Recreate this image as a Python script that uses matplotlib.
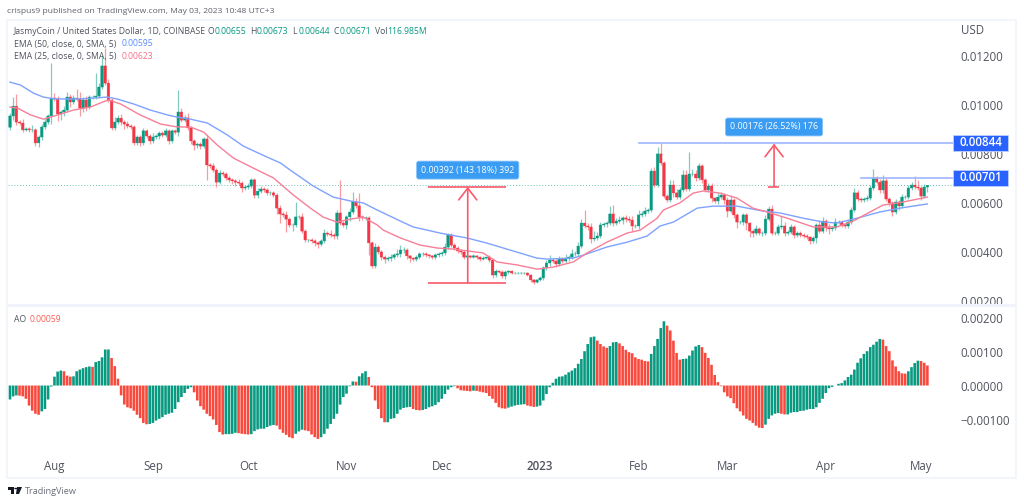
import numpy as np
import matplotlib
matplotlib.use("Agg")
import matplotlib.pyplot as plt
from matplotlib.patches import Rectangle, Polygon

plt.rcParams['font.family'] = ['Open Sans', 'DejaVu Sans']

# ---- data (prices and AO in units of 0.00001) ----
UNIT = 1e-5
first_open = 908
closes = [
954,994,929,925,897,901,897,897,844,868,
909,929,954,1027,1023,962,970,978,1031,1011,
1027,1023,986,1019,990,1031,1031,1035,1072,1158,
1088,1019,905,929,945,929,921,913,909,844,
868,844,893,872,852,868,872,884,876,893,
852,893,888,970,937,946,905,852,835,839,
831,860,754,750,733,684,721,717,701,693,
689,684,680,660,664,668,693,631,647,656,
652,640,640,631,578,554,550,533,509,509,
542,542,484,448,448,444,436,431,444,476,
472,468,464,558,517,509,542,562,603,587,
542,538,538,436,342,419,399,378,370,374,
378,387,391,407,407,383,374,370,378,391,
391,387,383,378,387,391,395,419,468,427,
415,403,399,378,383,378,383,378,370,374,
378,366,305,321,317,301,317,321,313,313,
313,313,313,305,285,276,285,293,334,354,
366,362,350,370,362,374,378,391,391,423,
517,505,501,452,456,464,509,513,517,554,
517,525,529,538,533,529,505,505,550,554,
566,570,729,672,799,762,627,611,672,640,
623,652,713,656,717,717,701,750,693,652,
668,619,607,623,631,611,566,611,550,521,
521,550,517,484,476,493,476,476,533,574,
476,476,501,505,476,480,501,468,476,468,
464,460,444,456,509,484,525,497,493,497,
521,521,509,505,521,570,640,615,611,615,
619,660,701,684,652,689,615,599,562,603,
587,623,623,660,672,664,660,627,664,671]
upper_wicks = [
12,37,50,8,16,8,8,20,8,8,
12,16,8,143,20,12,8,16,20,12,
12,36,30,12,16,8,8,94,16,45,
73,16,8,20,12,16,8,12,8,8,
8,8,12,8,8,16,8,8,8,12,
8,8,8,90,16,12,20,8,8,8,
8,8,16,8,12,8,12,8,8,8,
8,8,12,8,8,12,8,8,12,12,
8,8,8,8,8,12,8,16,8,8,
60,8,16,8,4,8,8,8,8,16,
8,16,8,12,135,8,8,16,40,16,
53,8,8,8,8,16,8,8,8,8,
12,8,20,20,12,8,4,4,8,8,
8,8,4,4,8,8,8,16,8,8,
8,8,8,8,4,4,8,4,4,8,
4,8,8,8,4,8,8,4,4,4,
4,4,4,4,4,4,4,8,8,12,
20,8,8,12,8,16,8,20,12,16,
16,53,12,16,30,16,12,8,8,32,
37,12,16,8,12,12,16,8,20,12,
16,8,12,16,30,45,8,8,20,20,
16,12,20,20,90,20,16,12,8,8,
12,12,4,16,12,8,12,20,8,8,
8,8,8,4,8,16,8,8,16,12,
16,8,12,40,16,8,12,8,8,8,
8,8,4,8,8,20,16,8,16,8,
16,8,8,8,8,12,20,12,8,8,
12,12,37,8,12,24,12,8,8,12,
8,12,8,12,12,36,28,8,12,2]
lower_wicks = [
12,16,12,8,8,4,8,8,12,16,
12,8,8,32,8,28,24,16,8,20,
8,8,32,16,16,8,8,8,8,8,
8,8,8,8,8,12,20,8,8,8,
8,12,8,8,12,8,8,12,8,8,
12,8,8,16,8,8,8,12,20,12,
12,8,60,8,8,20,8,8,8,8,
12,16,8,16,8,8,8,12,12,8,
8,8,8,8,24,37,8,53,8,24,
8,8,8,8,8,8,12,16,8,8,
8,8,12,12,8,8,16,16,8,8,
16,8,8,49,8,8,8,12,16,8,
12,8,8,12,12,12,16,8,8,8,
8,8,8,8,8,8,8,8,8,8,
8,8,8,8,4,4,4,8,8,4,
4,8,12,8,4,8,12,8,4,4,
4,4,4,4,8,8,4,4,8,8,
12,8,12,8,8,8,12,8,8,8,
8,8,12,16,8,8,8,8,12,8,
12,8,8,16,12,8,20,8,12,8,
8,8,8,8,8,8,8,8,8,16,
8,8,8,8,8,8,12,8,12,8,
8,16,8,12,8,16,24,8,12,24,
8,12,28,24,16,8,8,12,8,8,
8,8,8,8,12,8,8,12,8,8,
8,8,12,8,20,8,8,12,20,8,
8,8,8,8,8,8,8,8,8,8,
8,8,8,8,12,12,8,12,16,8,
16,8,8,8,8,8,8,16,8,20]

ema50_days = [0,3.3,7.4,10.5,13.7,18,23,27.5,30.7,33.8,38.9,44.2,49.6,52.7,56.8,62.2,68.5,73.5,81,85.2,88.3,95.5,101.8,107.2,111.3,115.7,123,127,135.5,144,150.3,158.5,166,169.2,177.4,180.6,188,194.4,200.7,204.8,209,216.5,221.5,229,237.2,242.6,249.8,256.2,260.5,266.9,274,280.4,289]
ema50_vals = [1092,1080,1047,1031,1024,1023,1024,1028,1031,1023,1003,978,958,949,941,925,876,831,786,762,733,668,623,607,599,570,525,501,476,456,435,403,374,370,374,386,419,439,464,505,521,578,586,586,566,558,537,521,517,537,562,578,595]
ema25_days = [0,2.4,6.5,10.5,15,20,25.3,28.5,31,34.8,41,47.4,52.7,56.8,61,65.3,70.4,76.7,83,89.3,94.6,98.7,103,107.2,111.3,115.7,117.6,123,129.2,134.6,139.6,149,153.5,159.8,166,171,177.4,181.8,188,194.4,198.5,203.9,205.8,211,215.2,218.4,223.7,229,234,238.5,244.8,253,260.5,265.6,270.9,275,281.4,289]
ema25_vals = [990,986,958,941,958,978,990,1007,1019,1003,958,921,909,909,888,835,782,741,701,631,578,541,521,533,541,509,488,456,427,415,411,395,358,346,329,337,358,395,439,476,488,537,570,599,639,648,639,619,578,562,537,501,501,525,562,590,603,623]

ao_vals = [
-41,-32,-29,-30,-32,-39,-59,-74,-83,-86,
-76,-69,-41,-3,26,41,44,42,29,26,
27,42,47,51,54,56,55,69,72,83,
106,106,81,57,20,-29,-56,-64,-67,-74,
-86,-96,-110,-114,-113,-110,-103,-98,-93,-86,
-83,-80,-69,-49,-34,-22,-10,-5,-20,-44,
-61,-71,-83,-90,-100,-116,-137,-144,-143,-143,
-142,-139,-140,-142,-143,-144,-143,-134,-129,-127,
-127,-122,-118,-116,-118,-129,-139,-145,-152,-155,
-142,-135,-130,-132,-134,-144,-152,-157,-152,-142,
-127,-113,-98,-83,-56,-34,-24,-2,12,11,
27,36,42,25,-5,-44,-69,-96,-108,-108,
-98,-96,-83,-71,-66,-64,-63,-69,-72,-73,
-72,-69,-64,-61,-57,-49,-39,-25,-12,-5,
-2,-8,-14,-15,-16,-17,-15,-16,-18,-20,
-22,-31,-39,-51,-64,-67,-68,-65,-62,-59,
-57,-56,-55,-59,-61,-63,-62,-59,-44,-25,
-5,8,20,26,27,32,39,44,51,64,
78,101,122,142,144,132,122,115,111,116,
127,128,124,116,105,98,95,83,78,76,
72,71,93,116,137,169,189,176,162,132,
96,76,78,79,88,103,115,119,113,96,
81,61,31,10,-2,-20,-32,-37,-52,-67,
-76,-88,-98,-103,-110,-118,-124,-125,-115,-98,
-88,-83,-81,-83,-85,-85,-80,-78,-78,-75,
-74,-71,-69,-69,-64,-51,-39,-22,-8,-4,
0,5,7,15,25,32,47,67,80,93,
101,113,120,129,137,135,116,101,74,56,
42,36,35,42,54,66,73,72,67,59]

month_days = [14,45,75,106,136,167,198,226,257,287]
month_labels = ['Aug','Sep','Oct','Nov','Dec','2023','Feb','Mar','Apr','May']
price_ticks = [0.002,0.004,0.006,0.008,0.010,0.012]
ao_ticks = [-0.001,0,0.001,0.002]
last_close = 0.00671
level_high, level_mid = 0.00844, 0.00701
m1_span, m1_x, m1_lo, m1_hi = (131.8,156.2), 144.2, 0.00272, 0.00665
m2_span, m2_x, m2_lo, m2_hi = (238.8,242.3), 240.7, 0.00665, 0.00841
level_high_start, level_mid_start = 198.2, 268

GREEN, RED = '#089981', '#F23645'
AO_RED = '#F9493D'
BLUE_TXT, PINK = '#5B8CFF', '#F7708A'
GREY = '#50535E'

W, H = 1024, 503
fig = plt.figure(figsize=(W/100, H/100), dpi=100, facecolor='white')
def axrect(x0, y0, x1, y1):
    return [x0/W, 1-y1/H, (x1-x0)/W, (y1-y0)/H]

ax = fig.add_axes(axrect(7.5, 20, 955, 303))
ao = fig.add_axes(axrect(7.5, 307, 955, 477), sharex=ax)

# ---- frame ----
frame = '#F0F3FA'
fig.add_artist(Rectangle((7/W, 1-477.5/H), 1008.5/W, 458/H, transform=fig.transFigure,
                         fill=False, ec=frame, lw=1.2))
fig.add_artist(Rectangle((7/W, 1-306.5/H), 1008.5/W, 3/H, transform=fig.transFigure,
                         fc=frame, ec='none'))

# ---- candles ----
c = np.array(closes, float)
o = np.r_[first_open, c[:-1]]
hi = np.maximum(o, c) + np.array(upper_wicks)
lo = np.minimum(o, c) - np.array(lower_wicks)
days = np.arange(len(c))
cols = np.where(c >= o, GREEN, RED)
ax.vlines(days, lo*UNIT, hi*UNIT, colors=cols, lw=0.9, alpha=0.5, zorder=2)
bodies = ax.bar(days, np.abs(c-o)*UNIT, bottom=np.minimum(o, c)*UNIT, width=0.8, color=cols,
                edgecolor=cols, linewidth=0.3, zorder=3)
for b in bodies:
    b.set_snap(False)
ax.plot(np.array(ema50_days), np.array(ema50_vals)*UNIT, color='#7FA2FF', lw=1.0, zorder=4)
ax.plot(np.array(ema25_days), np.array(ema25_vals)*UNIT, color='#F77F98', lw=1.0, zorder=4)
ax.axhline(last_close, color=GREEN, lw=0.7, ls=(0, (1, 2)), alpha=0.6, zorder=1)

# ---- measure tools ----
mcol = '#FA5A6C'
ax.hlines([m1_lo, m1_hi], *m1_span, color=mcol, lw=1.2, zorder=5)
ax.hlines(m2_lo, *m2_span, color=mcol, lw=1.2, zorder=5)
for x, low, high in [(m1_x, m1_lo, m1_hi), (m2_x, m2_lo, m2_hi)]:
    ax.annotate('', xy=(x, high), xytext=(x, low), zorder=5,
                arrowprops=dict(arrowstyle='->,head_length=0.65,head_width=0.5', color=mcol,
                                lw=1.2, shrinkA=0, shrinkB=0, mutation_scale=13))
boxst = dict(boxstyle='round,pad=0.5,rounding_size=0.25', fc='#3A9CF2', ec='#7CBDF5', lw=0.6)
ax.text(m1_x, 0.00733, '0.00392 (143.18%) 392', color='white', fontsize=6.4, ha='center', va='center', bbox=boxst, zorder=6)
ax.text(m2_x, 0.00909, '0.00176 (26.52%) 176', color='white', fontsize=6.4, ha='center', va='center', bbox=boxst, zorder=6)

# ---- levels and tags ----
ytr = ax.get_yaxis_transform()
line_col = '#9DB6FF'
ax.plot([level_high_start, 297.7], [level_high]*2, color=line_col, lw=1.2, zorder=4)
ax.plot([level_mid_start, 297.7], [level_mid]*2, color=line_col, lw=1.2, zorder=4)
fx = lambda px: (px-7.5)/947.5
for lv, txt in [(level_high, '0.00844'), (level_mid, '0.00701')]:
    ax.add_patch(Rectangle((fx(953), lv-0.00033), (1008-953)/947.5, 0.00066, transform=ytr,
                           fc='#2962FF', ec='#BFD0FF', lw=0.6, clip_on=False, zorder=7))
    ax.text(fx(980.5), lv, txt, transform=ytr, color='white', fontsize=8.3, fontweight='semibold',
            ha='center', va='center', clip_on=False, zorder=8)

ax.set_xlim(-0.79, 297.7)
ax.set_ylim(190.8*UNIT, 1345.4*UNIT)

# ---- AO ----
aov = np.array(ao_vals, float)
aoc = np.where(np.r_[True, aov[1:] >= aov[:-1]], GREEN, AO_RED)
ao_bars = ao.bar(days, aov*UNIT, width=0.82, color=aoc, linewidth=0)
for b in ao_bars:
    b.set_snap(False)
ao.set_ylim(-0.00269, 0.002309)

# ---- axes cosmetics ----
for a in (ax, ao):
    for s in a.spines.values():
        s.set_visible(False)
    a.yaxis.tick_right()
    a.tick_params(axis='y', length=0, pad=4, labelsize=8.3, labelcolor=GREY)
    a.tick_params(axis='x', length=0)
    a.patch.set_alpha(0)
ax.set_yticks(price_ticks)
ax.set_yticklabels([f'{t:.5f}' for t in price_ticks])
ao.set_yticks(ao_ticks)
ao.set_yticklabels(['\u22120.00100', '0.00000', '0.00100', '0.00200'])
ax.tick_params(axis='x', labelbottom=False)
ao.set_xticks(month_days)
ao.set_xticklabels(month_labels, fontsize=8.3, color=GREY)
ao.tick_params(axis='x', pad=-12)
for lab in ao.get_xticklabels():
    if lab.get_text() == '2023':
        lab.set_fontweight('semibold')
ax.set_xlim(-0.79, 297.7)

# ---- texts ----
def ftext(px, py, s, **kw):
    kw.setdefault('fontsize', 6.2)
    kw.setdefault('color', GREY)
    kw.setdefault('va', 'center')
    fig.text(px/W, 1-py/H, s, **kw)

ftext(7, 11.5, 'crispus9 published on TradingView.com, May 03, 2023 10:48 UTC+3', fontsize=6.1, color='#5D606B')
ftext(14, 31.5, 'JasmyCoin / United States Dollar, 1D, COINBASE')
for px, lab, val in [(208, 'O', '0.00655'), (250, 'H', '0.00673'), (292, 'L', '0.00644'), (333, 'C', '0.00671')]:
    ftext(px, 31.5, lab)
    ftext(px+6.5, 31.5, val, color=GREEN)
ftext(375, 31.5, 'Vol')
ftext(387, 31.5, '116.985M', color=GREEN)
ftext(14, 44, 'EMA (50, close, 0, SMA, 5)')
ftext(122, 44, '0.00595', color=BLUE_TXT)
ftext(14, 56.5, 'EMA (25, close, 0, SMA, 5)')
ftext(122, 56.5, '0.00623', color=PINK)
ftext(14, 319, 'AO')
ftext(30, 319, '0.00059', color='#F9605A')
ftext(961, 31, 'USD', fontsize=8.3)
ftext(25, 491, 'TradingView', fontsize=6.6, color='#6A6D78')

# ---- logo ----
def px_poly(points, **kw):
    pts = [(x/W, 1-y/H) for x, y in points]
    fig.add_artist(Polygon(pts, closed=True, transform=fig.transFigure, **kw))
logo = '#131722'
px_poly([(8,487),(14,487),(14,494),(11,494),(11,490),(8,490)], fc=logo, ec='none')
px_poly([(17,487),(22,487),(19,494),(16,494)], fc=logo, ec='none')
fig.add_artist(plt.Circle((15.7/W, 1-488.5/H), 1.5/W, transform=fig.transFigure, fc=logo, ec='none'))

fig.savefig('out.png', dpi=100)
